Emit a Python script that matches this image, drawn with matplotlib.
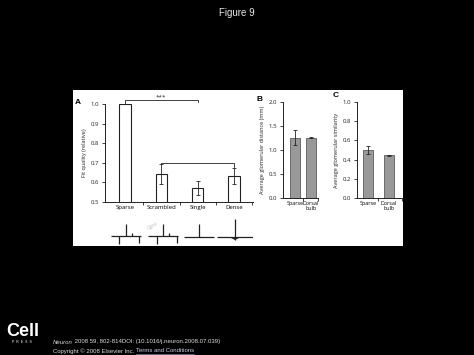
import numpy as np
import matplotlib
matplotlib.use("Agg")
import matplotlib.pyplot as plt
from matplotlib.patches import Rectangle, Polygon

plt.rcParams['font.family'] = ['Open Sans', 'DejaVu Sans']

# %% data
a_cats = ['Sparse', 'Scrambled', 'Single', 'Dense']
a_vals = [1.0, 0.643, 0.572, 0.633]
a_errs = [0.0, 0.051, 0.035, 0.042]

b_cats = ['Sparse', 'Dorsal\nbulb']
b_vals = [1.26, 1.26]
b_errs = [0.15, 0.01]

c_cats = ['Sparse', 'Dorsal\nbulb']
c_vals = [0.50, 0.445]
c_errs = [0.045, 0.005]

W, H = 474, 355
fig = plt.figure(figsize=(W / 100, H / 100), dpi=100, facecolor='black')


def px_axes(x0, y0, x1, y1, **kw):
    # axes from pixel box (top-left origin)
    return fig.add_axes([x0 / W, 1 - y1 / H, (x1 - x0) / W, (y1 - y0) / H], **kw)


# white panel behind everything
fig.patches.append(Rectangle((73 / W, 1 - 246 / H), 330 / W, 156 / H,
                             transform=fig.transFigure, facecolor='white',
                             edgecolor='none', zorder=-10))

fig.text(237 / W, 1 - 13 / H, 'Figure 9', color='#e8e8e8', fontsize=7,
         ha='center', va='center', family=['Liberation Sans', 'DejaVu Sans'])

tick_fs = 4.3
lab_fs = 4.0


def style(ax):
    ax.set_facecolor('none')
    for s in ['top', 'right']:
        ax.spines[s].set_visible(False)
    for s in ['left', 'bottom']:
        ax.spines[s].set_linewidth(0.7)
        ax.spines[s].set_color('#222222')
    ax.tick_params(length=2.5, width=0.6, labelsize=tick_fs, pad=1.5,
                   colors='#222222')


# %% panel A
axA = px_axes(105, 104, 253, 202)
style(axA)
xa = np.arange(len(a_cats))
axA.bar(xa, a_vals, width=0.31, color='white', edgecolor='#222222', linewidth=0.8)
axA.errorbar(xa[1:], a_vals[1:], yerr=a_errs[1:], fmt='none', ecolor='#222222',
             elinewidth=0.6, capsize=1.6, capthick=0.6)
axA.set_ylim(0.5, 1.0)
axA.set_xlim(-0.55, 3.52)
axA.set_yticks([0.5, 0.6, 0.7, 0.8, 0.9, 1.0])
axA.set_yticklabels(['0.5', '0.6', '0.7', '0.8', '0.9', '1.0'])
axA.set_xticks(xa + 0.5)
axA.set_xticklabels([])
axA.set_xticks(xa, minor=True)
axA.set_xticklabels(a_cats, minor=True, fontsize=tick_fs)
axA.tick_params(axis='x', which='minor', length=0, pad=2)
axA.set_ylabel('Fit quality (relative)', fontsize=lab_fs, labelpad=3, color='#222222')

# significance brackets
axA.plot([0, 0, 2, 2], [1.0, 1.02, 1.02, 1.01], color='#222222', lw=0.6,
         clip_on=False)
axA.text(1.0, 1.022, '***', ha='center', va='bottom', fontsize=4.5, color='#222222')
axA.plot([1, 1, 3, 3], [0.695, 0.70, 0.70, 0.68], color='#222222', lw=0.6,
         clip_on=False)
axA.text(-1.38, 1.01, 'A', fontsize=6, fontweight='bold', color='black',
         ha='left', va='center', family=['Liberation Sans', 'DejaVu Sans'])

# stimulus glyphs below panel A (pixel units)
axG = px_axes(105, 215, 253, 246)
axG.set_xlim(105, 253)
axG.set_ylim(246, 215)
axG.axis('off')
gk = dict(color='#222222', lw=0.9, solid_capstyle='butt')


def glyph_sparse(cx):
    axG.plot([cx - 14.5, cx + 15.5], [236, 236], **gk)
    axG.plot([cx + 0.7, cx + 0.7], [236, 224.3], **gk)
    axG.plot([cx + 6.7, cx + 6.7], [236, 233], **gk)
    axG.plot([cx - 6, cx - 6], [236, 244.3], **gk)
    axG.plot([cx + 14, cx + 14], [236, 242.7], **gk)


glyph_sparse(125)
glyph_sparse(162.5)
axG.text(152, 226, 'Ogre', fontsize=4, color='#bbbbbb', rotation=30,
         ha='center', va='center', style='italic')
axG.plot([184, 214], [236.5, 236.5], **gk)
axG.plot([199.3, 199.3], [236.5, 224], **gk)
axG.plot([217, 254], [237, 237], **gk)
axG.plot([235, 235], [219.3, 239.5], **gk)
axG.add_patch(Polygon([[229, 237], [241, 237], [235, 240]], closed=True,
                      facecolor='#222222', edgecolor='none'))

# %% panel B
grey = '#999999'
axB = px_axes(283, 102, 318, 198)
style(axB)
xb = np.arange(len(b_cats))
axB.bar(xb, b_vals, width=0.62, color=grey, edgecolor='#444444', linewidth=0.5)
axB.errorbar(xb, b_vals, yerr=b_errs, fmt='none', ecolor='#222222',
             elinewidth=0.6, capsize=1.4, capthick=0.6)
axB.set_ylim(0, 2.0)
axB.set_xlim(-0.75, 1.44)
axB.set_yticks([0, 0.5, 1.0, 1.5, 2.0])
axB.set_yticklabels(['0.0', '0.5', '1.0', '1.5', '2.0'])
axB.set_xticks([0.5, 1.44])
axB.set_xticklabels([])
axB.set_xticks(xb, minor=True)
axB.set_xticklabels(b_cats, minor=True, fontsize=3.9, linespacing=1.0, va='top')
axB.tick_params(axis='x', which='minor', length=0, pad=2)
axB.set_ylabel('Average glomerular distance (mm)', fontsize=lab_fs, labelpad=3,
               color='#222222')
axB.text(-2.4, 2.05, 'B', fontsize=6, fontweight='bold', color='black',
         ha='left', va='center', family=['Liberation Sans', 'DejaVu Sans'])

# %% panel C
axC = px_axes(357, 102, 402, 198)
style(axC)
xc = np.arange(len(c_cats))
axC.bar(xc, c_vals, width=0.5, color=grey, edgecolor='#444444', linewidth=0.5)
axC.errorbar(xc, c_vals, yerr=c_errs, fmt='none', ecolor='#222222',
             elinewidth=0.6, capsize=1.4, capthick=0.6)
axC.set_ylim(0, 1.0)
axC.set_xlim(-0.52, 1.62)
axC.set_yticks([0, 0.2, 0.4, 0.6, 0.8, 1.0])
axC.set_yticklabels(['0.0', '0.2', '0.4', '0.6', '0.8', '1.0'])
axC.set_xticks([0.5, 1.62])
axC.set_xticklabels([])
axC.set_xticks(xc, minor=True)
axC.set_xticklabels(c_cats, minor=True, fontsize=3.9, linespacing=1.0, va='top')
axC.tick_params(axis='x', which='minor', length=0, pad=2)
axC.set_ylabel('Average glomerular similarity', fontsize=lab_fs, labelpad=3,
               color='#222222')
axC.text(-1.66, 1.07, 'C', fontsize=6, fontweight='bold', color='black',
         ha='left', va='center', family=['Liberation Sans', 'DejaVu Sans'])

# %% footer
fig.text(6 / W, 1 - 331 / H, 'Cell', color='white', fontsize=13, fontweight='bold',
         ha='left', va='center', family=['Liberation Sans', 'DejaVu Sans'])
fig.text(22 / W, 1 - 342 / H, 'P  R  E  S  S', color='white', fontsize=2.5,
         ha='center', va='center', family=['Liberation Sans', 'DejaVu Sans'])
foot = dict(color='#dddddd', fontsize=4.3, ha='left', va='center',
            family=['Liberation Sans', 'DejaVu Sans'])
r = fig.canvas.get_renderer()


def after(t, s, y, **kw):
    # place text s right after text t
    x1 = t.get_window_extent(r).x1 / W
    return fig.text(x1, y, s, **kw)


t1 = fig.text(53 / W, 1 - 342 / H, 'Neuron', style='italic', **foot)
after(t1, ' 2008 59, 802-814DOI: (10.1016/j.neuron.2008.07.039)', 1 - 342 / H, **foot)
t2 = fig.text(53 / W, 1 - 351 / H, 'Copyright \u00a9 2008 Elsevier Inc. ', **foot)
t3 = after(t2, 'Terms and Conditions', 1 - 351 / H, **dict(foot, color='#c8ccee'))
bb = t3.get_window_extent(r)
fig.add_artist(plt.Line2D([bb.x0 / W, bb.x1 / W], [bb.y0 / H, bb.y0 / H],
                          color='#aab0dd', lw=0.4, transform=fig.transFigure))

fig.savefig('out.png', dpi=100, facecolor='black')
